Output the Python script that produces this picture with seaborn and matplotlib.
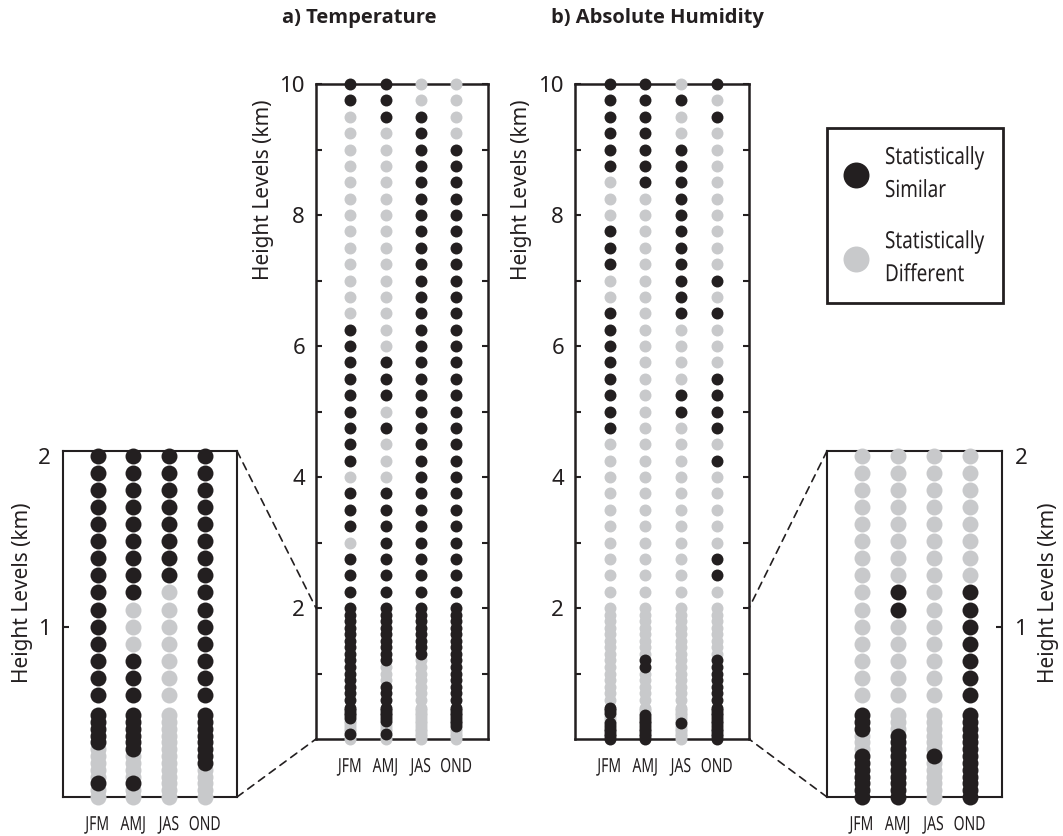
import matplotlib
matplotlib.use("Agg")
import matplotlib.pyplot as plt
from matplotlib import font_manager as fm
from matplotlib.font_manager import FontProperties
from matplotlib.lines import Line2D
from matplotlib.patches import ConnectionPatch, Rectangle
from matplotlib.patheffects import AbstractPathEffect
from matplotlib.transforms import Affine2D
import pandas as pd
import seaborn as sns

# ---------------------------------------------------------------- data
seasons = ["JFM", "AMJ", "JAS", "OND"]

# height levels (km): coarse aloft, finer in the boundary layer
upper_levels = [10.0, 9.75, 9.5, 9.25, 9.0, 8.75, 8.5, 8.25, 8.0, 7.75, 7.5,
                7.25, 7.0, 6.75, 6.5, 6.25, 6.0, 5.75, 5.5, 5.25, 5.0, 4.75,
                4.5, 4.25, 4.0, 3.75, 3.5, 3.25, 3.0, 2.75, 2.5, 2.25]
mid_levels = [2.0, 1.9, 1.8, 1.7, 1.6, 1.5, 1.4, 1.3, 1.2, 1.1, 1.0, 0.9,
              0.8, 0.7, 0.6]
low_levels = [0.48, 0.44, 0.40, 0.36, 0.32, 0.28, 0.24, 0.20, 0.16, 0.12,
              0.08, 0.04, 0.0]
heights = upper_levels + mid_levels + low_levels

# 1 = statistically similar, 0 = statistically different
# each list: 10.0-2.25 km | 2.0-0.6 km | 0.48-0.0 km
temp_jfm = ([1, 1, 0, 0, 0, 0, 0, 0, 0, 0, 0, 0, 0, 0, 0, 1, 1, 1, 1, 1, 1, 1,
             1, 1, 0, 1, 1, 1, 0, 1, 1, 1]
            + [1, 1, 1, 1, 1, 1, 1, 1, 1, 1, 1, 1, 1, 1, 1]
            + [1, 1, 1, 1, 1, 0, 0, 0, 0, 0, 1, 0, 0])
temp_amj = ([1, 1, 1, 0, 0, 0, 0, 0, 0, 0, 0, 0, 0, 0, 0, 0, 0, 1, 1, 1, 0, 1,
             0, 0, 0, 1, 1, 1, 1, 1, 1, 1]
            + [1, 1, 1, 1, 1, 1, 1, 1, 1, 0, 0, 0, 1, 1, 1]
            + [1, 1, 1, 1, 1, 1, 0, 0, 0, 0, 1, 0, 0])
temp_jas = ([0, 0, 1, 1, 1, 1, 1, 1, 1, 1, 1, 1, 1, 1, 1, 1, 1, 1, 1, 1, 1, 1,
             1, 1, 1, 1, 1, 1, 1, 1, 1, 1]
            + [1, 1, 1, 1, 1, 1, 1, 1, 0, 0, 0, 0, 0, 0, 0]
            + [0, 0, 0, 0, 0, 0, 0, 0, 0, 0, 0, 0, 0])
temp_ond = ([0, 0, 0, 0, 1, 1, 1, 1, 1, 1, 1, 1, 1, 1, 1, 1, 1, 1, 1, 1, 1, 1,
             1, 1, 1, 1, 1, 1, 1, 1, 1, 1]
            + [1, 1, 1, 1, 1, 1, 1, 1, 1, 1, 1, 1, 1, 1, 1]
            + [1, 1, 1, 1, 1, 1, 1, 1, 0, 0, 0, 0, 0])

hum_jfm = ([1, 1, 1, 1, 1, 1, 0, 0, 0, 1, 1, 1, 0, 0, 1, 1, 1, 1, 1, 1, 1, 1,
            0, 0, 0, 0, 0, 0, 0, 0, 0, 0]
           + [0, 0, 0, 0, 0, 0, 0, 0, 0, 0, 0, 0, 0, 0, 0]
           + [1, 1, 1, 0, 0, 0, 1, 1, 1, 1, 1, 1, 1])
hum_amj = ([1, 1, 1, 1, 1, 1, 1, 0, 0, 0, 0, 0, 0, 0, 0, 0, 0, 0, 0, 0, 0, 0,
            0, 0, 0, 0, 0, 0, 0, 0, 0, 0]
           + [0, 0, 0, 0, 0, 0, 0, 0, 1, 1, 0, 0, 0, 0, 0]
           + [0, 0, 0, 1, 1, 1, 1, 1, 1, 1, 1, 1, 1])
hum_jas = ([0, 1, 0, 0, 1, 1, 1, 1, 1, 1, 1, 1, 1, 1, 1, 0, 0, 0, 0, 1, 1, 0,
            0, 0, 0, 0, 0, 0, 0, 0, 0, 0]
           + [0, 0, 0, 0, 0, 0, 0, 0, 0, 0, 0, 0, 0, 0, 0]
           + [0, 0, 0, 0, 0, 0, 1, 0, 0, 0, 0, 0, 0])
hum_ond = ([1, 0, 1, 0, 0, 0, 0, 0, 0, 0, 0, 0, 1, 0, 1, 0, 0, 0, 1, 1, 1, 1,
            0, 1, 0, 0, 0, 0, 0, 1, 1, 0]
           + [0, 0, 0, 0, 0, 0, 0, 0, 1, 1, 1, 1, 1, 1, 1]
           + [1, 1, 1, 1, 1, 1, 1, 1, 1, 1, 1, 1, 1])

status_names = ["Statistically\nDifferent", "Statistically\nSimilar"]

BLACK = "#231f20"
GRAY = "#c8c9cb"

# ---------------------------------------------------------------- fonts
sns.set_style("white")
plt.rcParams["font.family"] = ["Noto Sans", "DejaVu Sans"]


def font_file(families, weight):
    for fam in families:
        cands = []
        for f in fm.fontManager.ttflist:
            if f.name != fam or f.style != "normal":
                continue
            w = f.weight if isinstance(f.weight, int) else fm.weight_dict.get(f.weight, 400)
            if abs(w - weight) <= 100:
                cands.append((abs(w - weight), f.stretch != "normal", f.fname))
        if cands:
            return sorted(cands)[0][2]
    return None


BOLD_FILE = font_file(["Open Sans", "Noto Sans", "Lato", "Roboto",
                       "Liberation Sans", "DejaVu Sans"], 700)


def bold(size):
    if BOLD_FILE:
        return FontProperties(fname=BOLD_FILE, size=size)
    return FontProperties(family="DejaVu Sans", weight="bold", size=size)


class Condense(AbstractPathEffect):
    """Squeeze glyph outlines horizontally (about the line centre or its start)."""

    def __init__(self, factor, about="center"):
        super().__init__()
        self.factor = factor
        self.about = about

    def draw_path(self, renderer, gc, tpath, affine, rgbFace=None):
        v = tpath.vertices
        if self.about == "center" and len(v):
            cx = 0.5 * (v[:, 0].min() + v[:, 0].max())
        else:
            cx = 0.0
        squeeze = Affine2D().translate(-cx, 0).scale(self.factor, 1).translate(cx, 0)
        renderer.draw_path(gc, tpath, squeeze + affine, rgbFace)


NUM_SIZE = 16
LABEL_SIZE = 15
SEASON_SIZE = 14
LEGEND_SIZE = 17

# ---------------------------------------------------------------- helpers
def frame(season_lists):
    rows = []
    for xi, flags in enumerate(season_lists):
        for h, f in zip(heights, flags):
            rows.append({"x": xi, "height": h, "status": status_names[f]})
    return pd.DataFrame(rows)


def draw_dots(ax, df, size):
    for name, color in zip(status_names, [GRAY, BLACK]):
        sub = df[df["status"] == name]
        sns.scatterplot(data=sub, x="x", y="height", color=color, s=size,
                        linewidth=0, legend=False, ax=ax, zorder=3,
                        clip_on=False)


def style_common(ax, lw):
    for sp in ax.spines.values():
        sp.set_visible(True)
        sp.set_linewidth(lw)
        sp.set_color(BLACK)
    ax.set_xlim(-0.97, 3.9)
    ax.set_xticks(range(len(seasons)))
    ax.set_xticklabels(seasons, fontsize=SEASON_SIZE, color=BLACK)
    for t in ax.get_xticklabels():
        t.set_path_effects([Condense(0.72)])
    ax.tick_params(axis="x", length=0, pad=13)
    ax.set_xlabel("")
    ax.grid(False)


W, H = 1063, 836
fig = plt.figure(figsize=(W / 100, H / 100), dpi=100)


def px_axes(left, top, right, bottom):
    return fig.add_axes([left / W, 1 - bottom / H, (right - left) / W,
                         (bottom - top) / H])


ax_ta = px_axes(316, 84, 488, 739)
ax_hb = px_axes(575, 84, 749, 739)
in_ta = px_axes(63, 451, 237, 797)
in_hb = px_axes(827, 451, 1002, 797)

df_t = frame([temp_jfm, temp_amj, temp_jas, temp_ond])
df_h = frame([hum_jfm, hum_amj, hum_jas, hum_ond])

MAIN_S = 74
INSET_S = 132

for ax, df in [(ax_ta, df_t), (ax_hb, df_h)]:
    draw_dots(ax, df, MAIN_S)
    style_common(ax, 1.8)
    ax.set_ylim(0, 10)
    ax.set_yticks([2, 4, 6, 8, 10])
    ax.set_yticks([1, 3, 5, 7, 9], minor=True)
    ax.set_yticklabels(["2", "4", "6", "8", "10"])
    ax.tick_params(axis="y", which="both", direction="in", left=True,
                   right=True, length=4, width=1.5, color=BLACK,
                   labelsize=NUM_SIZE, pad=8, labelcolor=BLACK)
    ax.set_ylabel("Height Levels (km)", fontsize=LABEL_SIZE, color=BLACK)
    ax.yaxis.set_label_coords(-0.245, 0.838)

for ax, df, side in [(in_ta, df_t, "left"), (in_hb, df_h, "right")]:
    draw_dots(ax, df[df["height"] <= 2.0], INSET_S)
    style_common(ax, 1.5)
    ax.set_ylim(0, 2.03)
    ax.set_yticks([1, 2])
    ax.set_yticklabels(["1", "2"])
    ax.set_ylabel("Height Levels (km)", fontsize=LABEL_SIZE, color=BLACK)
    if side == "left":
        ax.tick_params(axis="y", direction="in", left=True, right=False,
                       length=4, width=1.5, color=BLACK,
                       labelsize=NUM_SIZE, pad=9, labelcolor=BLACK)
        ax.yaxis.get_major_ticks()[1].tick1line.set_visible(False)
        ax.yaxis.set_label_coords(-0.17, 0.59)
    else:
        ax.yaxis.tick_right()
        ax.yaxis.set_label_position("right")
        ax.tick_params(axis="y", direction="in", left=False, right=True,
                       labelleft=False, labelright=True, length=4, width=1.5,
                       color=BLACK, labelsize=NUM_SIZE, pad=9,
                       labelcolor=BLACK)
        ax.yaxis.get_major_ticks()[1].tick2line.set_visible(False)
        ax.yaxis.label.set_rotation(90)
        ax.yaxis.set_label_coords(1.205, 0.59)

# dashed zoom connectors between the 0-2 km insets and the main panels
for inset, main, ix, mx in [(in_ta, ax_ta, 1, 0), (in_hb, ax_hb, 0, 1)]:
    for iy, my in [(1, 2.0), (0, 0.0)]:
        con = ConnectionPatch(xyA=(ix, iy), coordsA=inset.transAxes,
                              xyB=(mx, my), coordsB=main.get_yaxis_transform(),
                              linestyle=(0, (4.5, 3.5)), linewidth=1.2,
                              color=BLACK)
        fig.add_artist(con)

fig.text(359 / W, 1 - 18 / H, "a) Temperature", ha="center", va="center",
         fontproperties=bold(14.5), color=BLACK)
fig.text(657 / W, 1 - 18 / H, "b) Absolute Humidity", ha="center",
         va="center", fontproperties=bold(14.5), color=BLACK)

# legend: entries placed by matplotlib, boxed by a fixed frame
handles = [Line2D([], [], marker="o", linestyle="", markersize=18.7,
                  markerfacecolor=c, markeredgewidth=0)
           for c in [BLACK, GRAY]]
fs_px = LEGEND_SIZE * 100 / 72
leg = fig.legend(handles, [status_names[1], status_names[0]],
                 loc="upper left",
                 bbox_to_anchor=((855.7 - 0.5 * fs_px) / W, 1 - 146 / H),
                 bbox_transform=fig.transFigure, fontsize=LEGEND_SIZE,
                 frameon=False, borderpad=0, labelspacing=1.15,
                 handlelength=1.0, handletextpad=(885 - 855.7 - 0.5 * fs_px) / fs_px,
                 borderaxespad=0)
for t in leg.get_texts():
    t.set_color(BLACK)
    t.set_linespacing(1.5)
    t.set_path_effects([Condense(0.8, about="start")])
fig.add_artist(Rectangle((826.7 / W, 1 - 302.7 / H), 176 / W, 174.4 / H,
                         transform=fig.transFigure, fill=False,
                         linewidth=2.0, edgecolor=BLACK))

fig.savefig("out.png", dpi=100)
